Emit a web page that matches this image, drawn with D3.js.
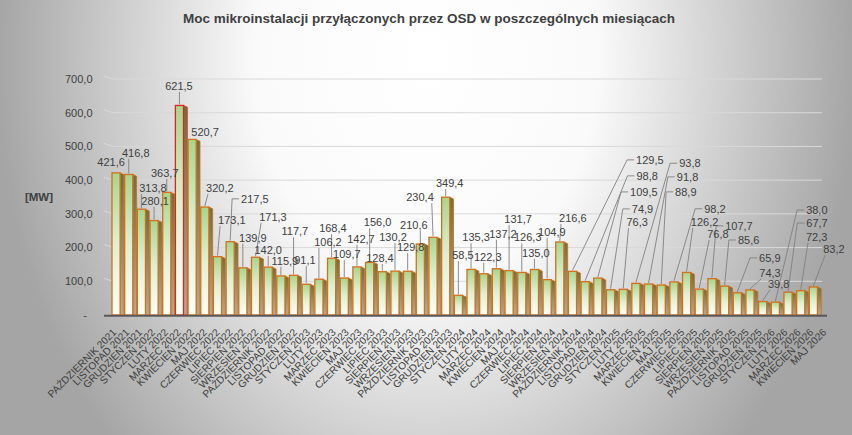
<!DOCTYPE html>
<html>
<head>
<meta charset="utf-8">
<script src="https://cdn.jsdelivr.net/npm/d3@7"></script>
<style>
  body { margin: 0; overflow: hidden; }
  svg { display: block; font-family: "Liberation Sans", Arial, sans-serif; }
</style>
</head>
<body>
<svg id="chart" width="852" height="435"></svg>
<script>
// Data
const months = [
    'PAŹDZIERNIK 2021', 'LISTOPAD 2021', 'GRUDZIEŃ 2021',
    'STYCZEŃ 2022', 'LUTY 2022', 'MARZEC 2022', 'KWIECIEŃ 2022', 'MAJ 2022', 'CZERWIEC 2022',
    'LIPIEC 2022', 'SIERPIEŃ 2022', 'WRZESIEŃ 2022', 'PAŹDZIERNIK 2022', 'LISTOPAD 2022', 'GRUDZIEŃ 2022',
    'STYCZEŃ 2023', 'LUTY 2023', 'MARZEC 2023', 'KWIECIEŃ 2023', 'MAJ 2023', 'CZERWIEC 2023',
    'LIPIEC 2023', 'SIERPIEŃ 2023', 'WRZESIEŃ 2023', 'PAŹDZIERNIK 2023', 'LISTOPAD 2023', 'GRUDZIEŃ 2023',
    'STYCZEŃ 2024', 'LUTY 2024', 'MARZEC 2024', 'KWIECIEŃ 2024', 'MAJ 2024', 'CZERWIEC 2024',
    'LIPIEC 2024', 'SIERPIEŃ 2024', 'WRZESIEŃ 2024', 'PAŹDZIERNIK 2024', 'LISTOPAD 2024', 'GRUDZIEŃ 2024',
    'STYCZEŃ 2025', 'LUTY 2025', 'MARZEC 2025', 'KWIECIEŃ 2025', 'MAJ 2025', 'CZERWIEC 2025',
    'LIPIEC 2025', 'SIERPIEŃ 2025', 'WRZESIEŃ 2025', 'PAŹDZIERNIK 2025', 'LISTOPAD 2025', 'GRUDZIEŃ 2025',
    'STYCZEŃ 2026', 'LUTY 2026', 'MARZEC 2026', 'KWIECIEŃ 2026', 'MAJ 2026'
];

const values = [
    421.6, 416.8, 313.8,
    280.1, 363.7, 621.5, 520.7, 320.2, 173.1, 217.5, 139.9, 171.3, 142.0, 115.9, 117.7,
    91.1, 106.2, 168.4, 109.7, 142.7, 156.0, 128.4, 130.2, 129.8, 210.6, 230.4, 349.4,
    58.5, 135.3, 122.3, 137.2, 131.7, 126.3, 135.0, 104.9, 216.6, 129.5, 98.8, 109.5,
    74.9, 76.3, 93.8, 91.8, 88.9, 98.2, 126.2, 76.8, 107.7, 85.6, 65.9, 74.3,
    39.8, 38.0, 67.7, 72.3, 83.2
];

const yTicks = [0, 100, 200, 300, 400, 500, 600, 700];

// where each data label was dragged to, relative to the top of its bar
const labelDx = [-5, 7, 11.5, 1, -2, -0.5, 13, 15, 14.4, 24.7, 10, 17.4, 0, 4, 1.3, -1.3, 9, 1.3, 2.6, 4,
    8, -2.4, -2, 3, -6.5, -13, 4, 4.5, 5, 4, 6.5, 9, 6, 1.4, 4.7, 13, 77.4, 62, 46, 32,
    14, 54, 39, 24.6, 41, 18, 18.6, 27, 24, 32.5, 20, 16, 41.5, 29, 16, 20.5];
const labelDy = [-11, -21.5, -21, -19.6, -19.4, -19.5, -7.5, -19, -36.6, -42.7, -30, -40.2, -17, -15, -44, -24, -37, -30, -24, -28,
    -40, -13.7, -34, -24, -19, -40, -14, -40, -32, -17, -35, -51.6, -35, -16.5, -47.6, -24, -111.3, -105.7, -86, -80.7,
    -67, -120, -107, -93, -73, -50.5, -55, -52.7, -46, -34.8, -17, -17.6, -92, -69, -53.6, -38];

const W = 852, H = 435;
const textColor = '#404040';
const fmt = v => d3.format('.1f')(v).replace('.', ',');

const svg = d3.select('#chart');
const defs = svg.append('defs');

// Background: light centre fading to grey at the edges
const bg = defs.append('radialGradient')
    .attr('id', 'bg')
    .attr('gradientUnits', 'userSpaceOnUse')
    .attr('cx', 426).attr('cy', 60).attr('r', 430)
    .attr('gradientTransform', 'translate(426,60) scale(1,1.3) translate(-426,-60)');
bg.append('stop').attr('offset', 0).attr('stop-color', '#ffffff');
bg.append('stop').attr('offset', 0.4).attr('stop-color', '#fafafa');
bg.append('stop').attr('offset', 1).attr('stop-color', '#a5a5a5');

// Bar faces
const front = defs.append('linearGradient')
    .attr('id', 'front').attr('x1', 0).attr('y1', 0).attr('x2', 0).attr('y2', 1);
front.append('stop').attr('offset', 0).attr('stop-color', '#a9d58c');
front.append('stop').attr('offset', 0.5).attr('stop-color', '#e0f0d3');
front.append('stop').attr('offset', 1).attr('stop-color', '#fefef6');

const side = defs.append('linearGradient')
    .attr('id', 'side').attr('x1', 0).attr('y1', 0).attr('x2', 0).attr('y2', 1);
side.append('stop').attr('offset', 0).attr('stop-color', '#6e7040');
side.append('stop').attr('offset', 1).attr('stop-color', '#b5aa92');

svg.append('rect')
    .attr('width', W).attr('height', H)
    .attr('fill', 'url(#bg)');

// Scales
const x = d3.scaleBand().domain(months).range([110, 820]).padding(0);
const y = d3.scaleLinear().domain([0, 700]).range([315, 79]);
// category labels sit on the front edge of the 3D floor, slightly wider than the bars
const xLabel = d3.scalePoint().domain(months).range([114.5, 824.5]);

const bw = x.bandwidth();
const frontW = bw * 0.64;
const sideW = bw * 0.3;
const frontX = m => x(m) + 2;
const centerX = m => frontX(m) + frontW / 2;

// Title
svg.append('text')
    .attr('x', 429).attr('y', 23)
    .attr('text-anchor', 'middle')
    .style('font-size', '13.5px')
    .style('font-weight', 'bold')
    .style('fill', textColor)
    .text('Moc mikroinstalacji przyłączonych przez OSD w poszczególnych miesiącach');

// Gridlines with the short slant of the 3D back wall
const grid = svg.append('g').attr('class', 'grid');
grid.selectAll('path')
    .data(yTicks.filter(t => t > 0))
    .enter()
    .append('path')
    .attr('d', t => `M104,${y(t) - 3}L113,${y(t)}L822,${y(t)}`)
    .attr('fill', 'none')
    .attr('stroke', '#d9d9d9')
    .attr('stroke-width', 1);

// Y axis labels
svg.append('g')
    .selectAll('text')
    .data(yTicks)
    .enter()
    .append('text')
    .attr('x', t => t === 0 ? 87 : 92.5)
    .attr('y', t => y(t))
    .attr('dy', '0.35em')
    .attr('text-anchor', 'end')
    .style('font-size', '11px')
    .style('fill', textColor)
    .text(t => t === 0 ? '-' : fmt(t));

svg.append('text')
    .attr('x', 39).attr('y', 197)
    .attr('dy', '0.35em')
    .attr('text-anchor', 'middle')
    .style('font-size', '11.5px')
    .style('font-weight', 'bold')
    .style('fill', textColor)
    .text('[MW]');

// Bars
const maxVal = d3.max(values);
const bars = svg.append('g').attr('class', 'bars')
    .selectAll('g')
    .data(months.map((m, i) => ({ month: m, value: values[i], i })))
    .enter()
    .append('g');

bars.append('path')
    .attr('d', d => {
        const xr = frontX(d.month) + frontW;
        const top = y(d.value);
        return `M${xr},${top}L${xr + sideW},${top + 1.8}L${xr + sideW},${y(0)}L${xr},${y(0)}Z`;
    })
    .attr('fill', 'url(#side)')
    .attr('stroke', d => d.value === maxVal ? '#d42a1e' : '#cf6c1c')
    .attr('stroke-width', 0.8)
    .attr('stroke-linejoin', 'round');

bars.append('rect')
    .attr('x', d => frontX(d.month))
    .attr('y', d => y(d.value))
    .attr('width', frontW)
    .attr('height', d => y(0) - y(d.value))
    .attr('fill', 'url(#front)')
    .attr('stroke', d => d.value === maxVal ? '#e0241c' : '#d2701c')
    .attr('stroke-width', 1.3);

// Floor line
svg.append('line')
    .attr('x1', 104).attr('x2', 827)
    .attr('y1', y(0) + 0.8).attr('y2', y(0) + 0.8)
    .attr('stroke', '#595959')
    .attr('stroke-width', 2);

// X axis labels
svg.append('g')
    .selectAll('text')
    .data(months)
    .enter()
    .append('text')
    .attr('transform', m => `translate(${xLabel(m)},330.5) rotate(-45)`)
    .attr('text-anchor', 'end')
    .attr('dy', '0.35em')
    .style('font-size', '10.2px')
    .style('fill', textColor)
    .text(m => m);

// Data labels with leader lines
const leaders = svg.append('g').attr('class', 'leaders');
const labels = svg.append('g').attr('class', 'labels');

months.forEach((m, i) => {
    const px = centerX(m);
    const py = y(values[i]);
    const t = labels.append('text')
        .attr('x', px + labelDx[i])
        .attr('y', py + labelDy[i])
        .attr('dy', '0.35em')
        .attr('text-anchor', 'middle')
        .style('font-size', '11px')
        .style('fill', textColor)
        .text(fmt(values[i]));

    const b = t.node().getBBox();
    const x0 = b.x, x1 = b.x + b.width;
    const y1 = b.y + b.height;
    const ym = b.y + b.height / 2;

    if (py - y1 < 6) return;

    let d;
    if (px < x0 - 10 && py - y1 > 25) {
        // elbow leader from the left side of the label
        d = `M${x0 - 2},${ym}L${x0 - 9},${ym}L${px},${py - 1}`;
    } else {
        const sx = Math.max(x0 + 2, Math.min(x1 - 2, px));
        d = `M${sx},${y1}L${px},${py - 1}`;
    }
    leaders.append('path')
        .attr('d', d)
        .attr('fill', 'none')
        .attr('stroke', '#808080')
        .attr('stroke-width', 0.9);
});
</script>
</body>
</html>
